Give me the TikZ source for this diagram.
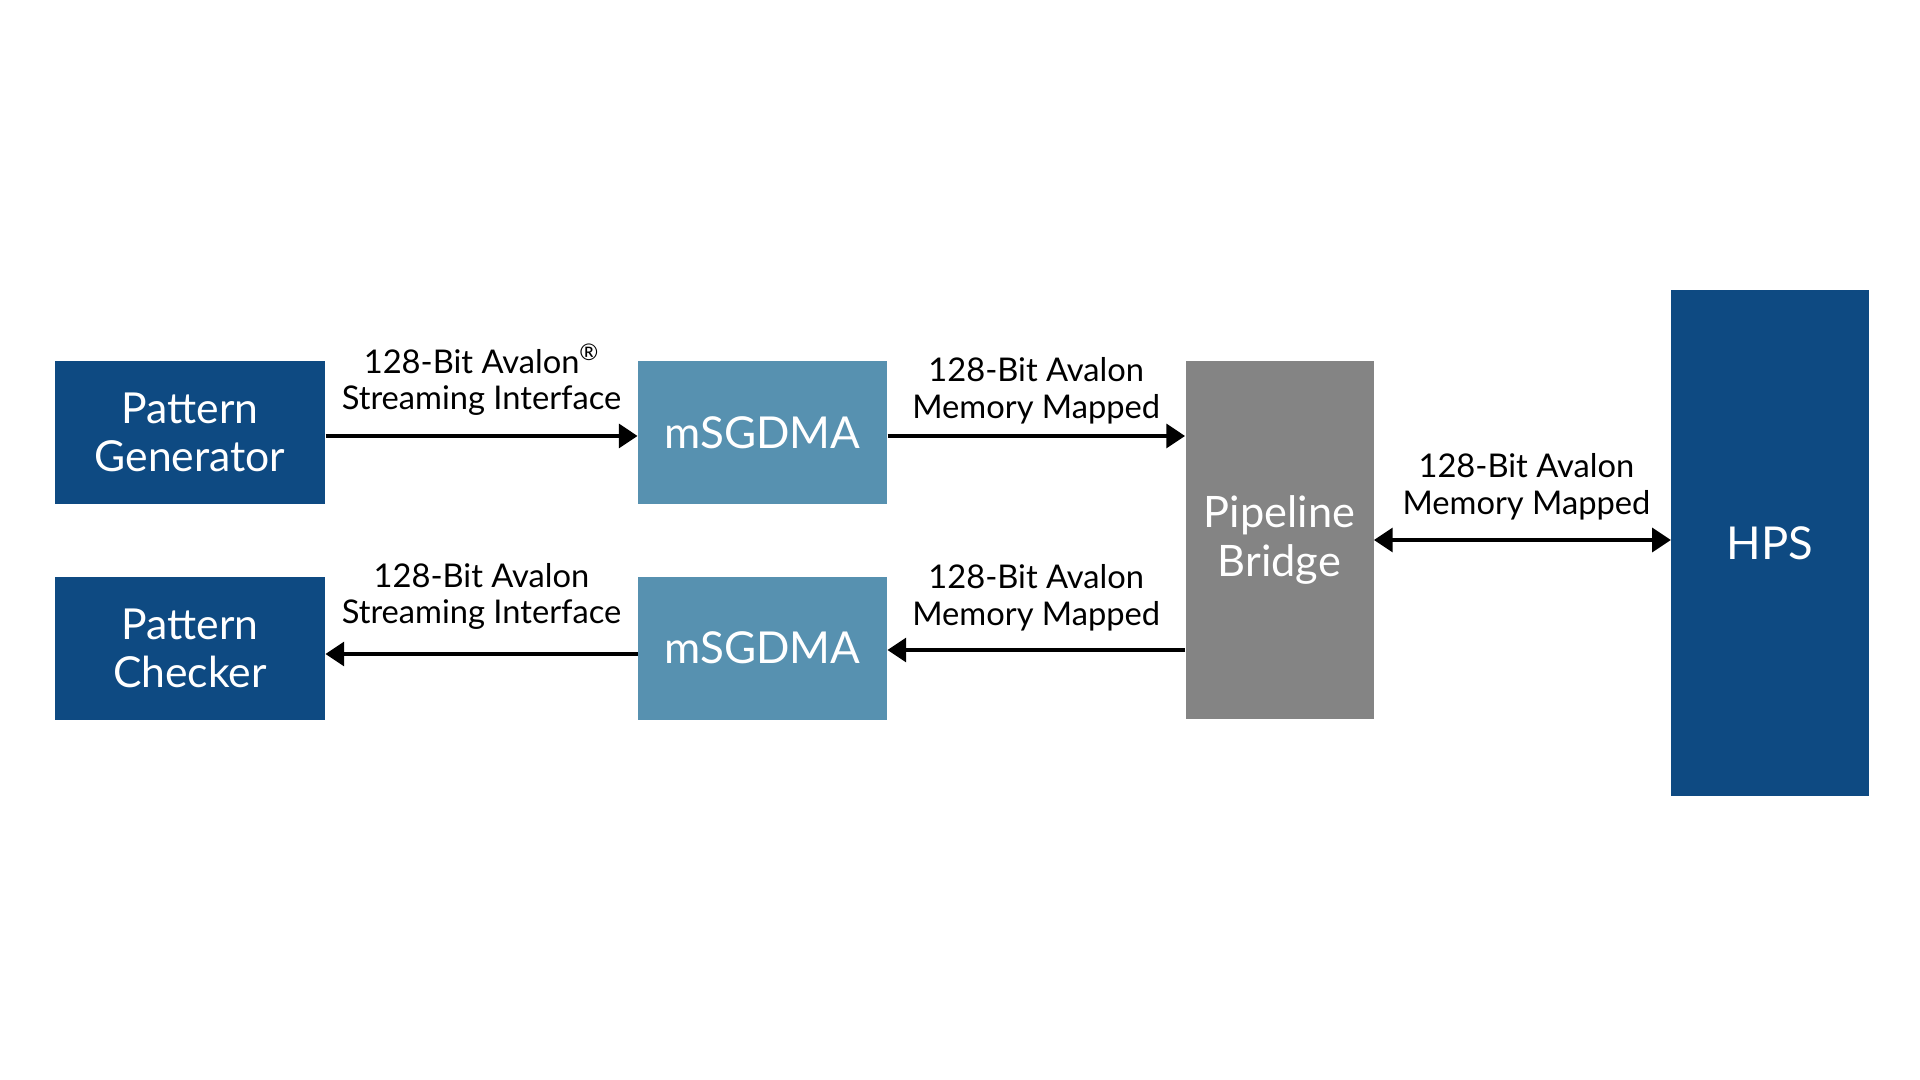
\documentclass[tikz,border=0pt]{standalone}
\usepackage{fontspec}
\setmainfont{Lato}
\usetikzlibrary{arrows.meta}
\definecolor{dkblue}{RGB}{14,74,130}
\definecolor{ltblue}{RGB}{87,145,176}
\definecolor{brgray}{RGB}{132,132,132}
\tikzset{every picture/.style={line width=0.75pt}}

\begin{document}
\begin{tikzpicture}[x=0.75pt,y=0.75pt,yscale=-1,xscale=1,
  blk/.style={inner sep=0pt, align=center, text=white, font=\fontsize{32}{36}\selectfont},
  arr/.style={line width=2.5pt, -{Triangle[length=14pt,width=18pt]}},
  arrb/.style={line width=2.5pt, {Triangle[length=14pt,width=18pt]}-{Triangle[length=14pt,width=18pt]}},
  lbl/.style={inner sep=0pt, align=center, text=black, font=\fontsize{24.5}{27.5}\selectfont}]
\useasboundingbox (0,0) rectangle (1920,1080);

%Shape: Pattern blocks
\node (pg) [blk, fill=dkblue, minimum width=202.5pt, minimum height=107.25pt] at (190,432.5) {Pattern\\Generator};
\node (pc) [blk, fill=dkblue, minimum width=202.5pt, minimum height=107.25pt] at (190,648) {Pattern\\Checker};
%Shape: mSGDMA blocks
\node (ms1) [blk, fill=ltblue, minimum width=186.75pt, minimum height=107.25pt, font=\fontsize{33}{36}\selectfont] at (762.5,432.5) {mSGDMA};
\node (ms2) [blk, fill=ltblue, minimum width=186.75pt, minimum height=107.25pt, font=\fontsize{33}{36}\selectfont] at (762.5,648) {mSGDMA};
%Shape: Pipeline Bridge
\node (pb) [blk, fill=brgray, minimum width=141pt, minimum height=268.5pt, font=\fontsize{32.5}{37}\selectfont] at (1279.5,540) {Pipeline\\Bridge};
%Shape: HPS
\node (hps) [blk, fill=dkblue, minimum width=148pt, minimum height=379.5pt, font=\fontsize{34}{36}\selectfont] at (1770,543) {HPS};

%Connector end points
\coordinate (a1) at ([yshift=2.6pt]pg.east);
\coordinate (a2) at ([yshift=2.6pt]ms1.east);
\coordinate (a3) at ([yshift=4.5pt]ms2.west);
\coordinate (a4) at ([yshift=1.5pt]ms2.east);

%Straight Lines
\draw [arr] (a1) -- (a1 -| ms1.west) node [lbl, midway, above=14pt] {128-Bit Avalon\textsuperscript{\textregistered}\\Streaming Interface};
\draw [arr] (a2) -- (a2 -| pb.west) node [lbl, midway, above=8pt] {128-Bit Avalon\\Memory Mapped};
\draw [arr] (a3) -- (a3 -| pc.east) node [lbl, midway, above=17pt] {128-Bit Avalon\\Streaming Interface};
\draw [arr] (a4 -| pb.west) -- (a4) node [lbl, midway, above=13pt] {128-Bit Avalon\\Memory Mapped};
\draw [arrb] (pb.east) -- (pb.east -| hps.west) node [lbl, midway, above=14pt, xshift=3pt] {128-Bit Avalon\\Memory Mapped};

\end{tikzpicture}
\end{document}
